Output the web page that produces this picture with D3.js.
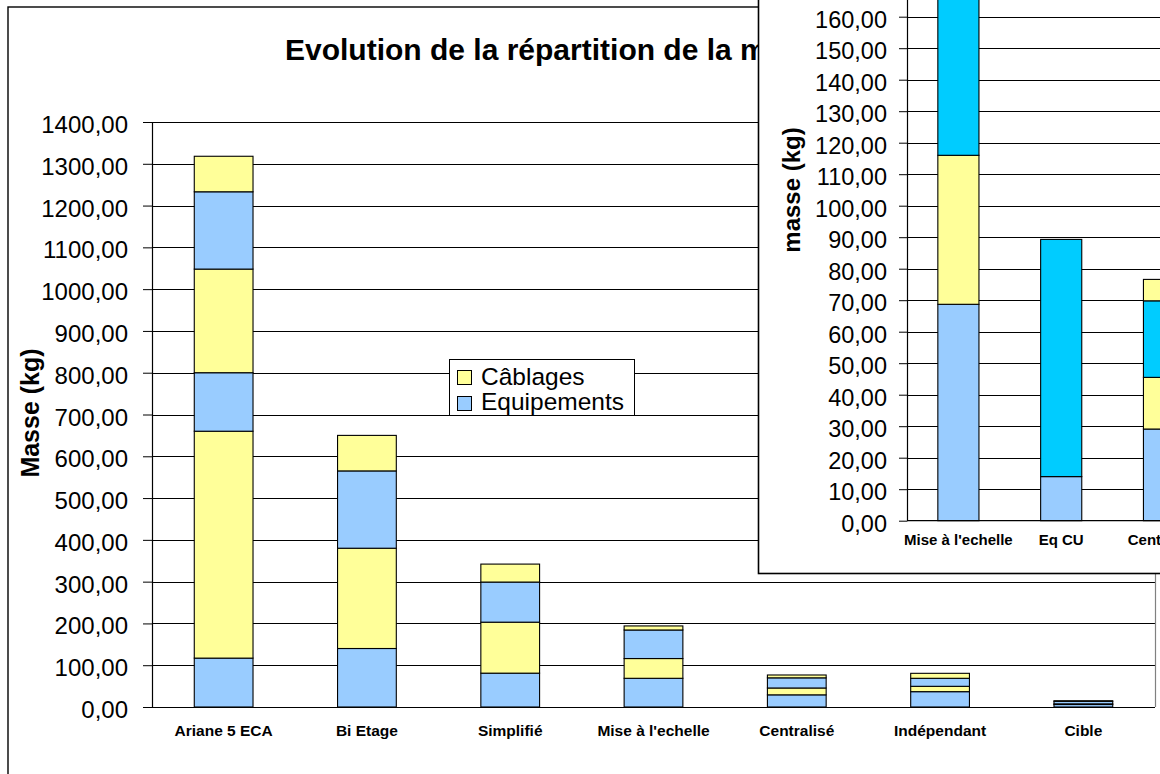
<!DOCTYPE html>
<html lang="fr">
<head>
<meta charset="utf-8">
<script src="https://cdn.jsdelivr.net/npm/d3@7"></script>
<style>
  html, body { margin: 0; padding: 0; background: #fff; }
  svg { display: block; font-family: Arial, "Liberation Sans", sans-serif; }
</style>
</head>
<body>
<svg id="chart" width="1160" height="774"></svg>
<script>
// ---- Main chart: stacked masses per architecture ----
const categories = ["Ariane 5 ECA", "Bi Etage", "Simplifié", "Mise à l'echelle", "Centralisé", "Indépendant", "Cible"];
// stacked from the bottom, alternating equipment / cabling blocks
const equipements1 = [117, 140, 81, 68.7, 29.1, 36.7, 6];
const cablages1    = [543, 240, 122, 47.3, 16.4, 12.8, 1.5];
const equipements2 = [140, 185, 96, 68.3, 24.3, 19.2, 6];
const cablages2    = [248, 85, 43, 9.7, 6.8, 11.9, 1.5];
const equipements3 = [185, 0, 0, 0, 0, 0, 0];
const cablages3    = [85, 0, 0, 0, 0, 0, 0];
const mainTicks = [0, 100, 200, 300, 400, 500, 600, 700, 800, 900, 1000, 1100, 1200, 1300, 1400];

// ---- Detail chart: lower-mass architectures ----
const detailCategories = ["Mise à l'echelle", "Eq CU", "Centralisé", "Indépendant", "Cible"];
const detailEquipements = [68.7, 14.0, 29.1, 36.7, 6];
const detailCablages    = [47.3, 0, 16.4, 12.8, 1.5];
const detailEqCU        = [68.3, 75.3, 24.3, 19.2, 6];
const detailCablages2   = [9.7, 0, 6.8, 11.9, 1.5];
const detailTicks = [0, 10, 20, 30, 40, 50, 60, 70, 80, 90, 100, 110, 120, 130, 140, 150, 160];
const detailMax = 200;

const legendLabels = ["Câblages", "Equipements"];

const BLUE = "#99CCFF", YELLOW = "#FFFF99", CYAN = "#00CCFF";
const fr = d3.formatLocale({ decimal: ",", thousands: "", grouping: [3], currency: ["", " €"] });
const fmt = fr.format(".2f");

const svg = d3.select("#chart");

// outer chart frame
svg.append("rect")
  .attr("x", 8).attr("y", 7).attr("width", 1300).attr("height", 900)
  .attr("fill", "#fff").attr("stroke", "#000").attr("stroke-width", 1.4);

// ---------- main chart ----------
const main = { left: 152, right: 1155, top: 122, bottom: 707 };
const x = d3.scaleBand().domain(categories).range([main.left, main.right]).paddingInner(0.59).paddingOuter(0.295);
const y = d3.scaleLinear().domain([0, 1400]).range([main.bottom, main.top]);

svg.append("text")
  .attr("x", 285).attr("y", 60)
  .attr("font-size", 30).attr("font-weight", "bold")
  .text("Evolution de la répartition de la masse");

// gridlines
svg.append("g").selectAll("line").data(mainTicks.filter(d => d > 0)).join("line")
  .attr("x1", main.left).attr("x2", main.right)
  .attr("y1", d => Math.round(y(d)) + 0.5).attr("y2", d => Math.round(y(d)) + 0.5)
  .attr("stroke", "#000").attr("stroke-width", 1);

// plot area right edge
svg.append("line")
  .attr("x1", main.right + 0.5).attr("x2", main.right + 0.5)
  .attr("y1", main.top).attr("y2", main.bottom)
  .attr("stroke", "#808080").attr("stroke-width", 1.2);

const mainRows = categories.map((c, i) => ({
  category: c,
  equipements1: equipements1[i], cablages1: cablages1[i],
  equipements2: equipements2[i], cablages2: cablages2[i],
  equipements3: equipements3[i], cablages3: cablages3[i]
}));
const mainKeys = ["equipements1", "cablages1", "equipements2", "cablages2", "equipements3", "cablages3"];
const mainStack = d3.stack().keys(mainKeys)(mainRows);

svg.append("g").selectAll("g").data(mainStack).join("g")
  .attr("fill", d => d.key.startsWith("equip") ? BLUE : YELLOW)
  .selectAll("rect").data(d => d.filter(s => s[1] - s[0] > 0)).join("rect")
  .attr("x", d => x(d.data.category))
  .attr("width", x.bandwidth())
  .attr("y", d => y(d[1]))
  .attr("height", d => y(d[0]) - y(d[1]))
  .attr("stroke", "#000").attr("stroke-width", 1.1);

// y axis
const yAxis = svg.append("g").attr("transform", `translate(${main.left},0)`)
  .call(d3.axisLeft(y).tickValues(mainTicks).tickFormat(fmt).tickSize(9).tickSizeOuter(0).tickPadding(15));
yAxis.select(".domain").attr("stroke", "#000").attr("stroke-width", 1.2);
yAxis.selectAll(".tick line").attr("stroke", "#000");
yAxis.selectAll(".tick text").attr("font-size", 24).attr("fill", "#000").attr("dy", "0.44em")
  .attr("font-family", "Arial, 'Liberation Sans', sans-serif");

// x axis baseline and category labels
svg.append("line")
  .attr("x1", main.left).attr("x2", main.right)
  .attr("y1", main.bottom + 0.5).attr("y2", main.bottom + 0.5)
  .attr("stroke", "#000").attr("stroke-width", 1.2);
const xAxis = svg.append("g").attr("transform", `translate(0,${main.bottom})`)
  .call(d3.axisBottom(x).tickSize(0).tickPadding(18));
xAxis.select(".domain").remove();
xAxis.selectAll(".tick text").attr("font-size", 15.5).attr("font-weight", "bold").attr("fill", "#000")
  .attr("font-family", "Arial, 'Liberation Sans', sans-serif");

svg.append("text")
  .attr("transform", "translate(39,413) rotate(-90)")
  .attr("text-anchor", "middle")
  .attr("font-size", 25).attr("font-weight", "bold")
  .text("Masse (kg)");

// legend
const legend = svg.append("g");
legend.append("rect")
  .attr("x", 449.5).attr("y", 359.5).attr("width", 185).attr("height", 56)
  .attr("fill", "#fff").attr("stroke", "#000").attr("stroke-width", 1);
const legendColors = [YELLOW, BLUE];
legend.selectAll("g.item").data(legendLabels).join("g").attr("class", "item")
  .each(function (d, i) {
    const g = d3.select(this);
    g.append("rect")
      .attr("x", 457.5).attr("y", 370.5 + i * 26).attr("width", 14).attr("height", 14)
      .attr("fill", legendColors[i]).attr("stroke", "#000").attr("stroke-width", 1);
    g.append("text")
      .attr("x", 481).attr("y", 384.5 + i * 25)
      .attr("font-size", 24.5).text(d);
  });

// ---------- detail chart (overlay) ----------
svg.append("rect")
  .attr("x", 758.5).attr("y", -300).attr("width", 700).attr("height", 873.5)
  .attr("fill", "#fff").attr("stroke", "#000").attr("stroke-width", 1.6);

const det = { left: 907, right: 907 + 5 * 102.8, bottom: 520.7 };
const dx = d3.scaleBand().domain(detailCategories).range([det.left, det.right]).paddingInner(0.6).paddingOuter(0.3);
const dy = d3.scaleLinear().domain([0, detailMax]).range([det.bottom, det.bottom - detailMax * 3.15]);

svg.append("g").selectAll("line").data(d3.range(10, detailMax + 1, 10)).join("line")
  .attr("x1", det.left).attr("x2", det.right)
  .attr("y1", d => Math.round(dy(d)) + 0.5).attr("y2", d => Math.round(dy(d)) + 0.5)
  .attr("stroke", "#000").attr("stroke-width", 1);

const detRows = detailCategories.map((c, i) => ({
  category: c,
  equipements: detailEquipements[i], cablages: detailCablages[i],
  eqcu: detailEqCU[i], cablages2: detailCablages2[i]
}));
const detColors = { equipements: BLUE, cablages: YELLOW, eqcu: CYAN, cablages2: YELLOW };
const detStack = d3.stack().keys(["equipements", "cablages", "eqcu", "cablages2"])(detRows);

svg.append("g").selectAll("g").data(detStack).join("g")
  .attr("fill", d => detColors[d.key])
  .selectAll("rect").data(d => d.filter(s => s[1] - s[0] > 0)).join("rect")
  .attr("x", d => dx(d.data.category))
  .attr("width", dx.bandwidth())
  .attr("y", d => dy(d[1]))
  .attr("height", d => dy(d[0]) - dy(d[1]))
  .attr("stroke", "#000").attr("stroke-width", 1.1);

const dyAxis = svg.append("g").attr("transform", `translate(${det.left},0)`)
  .call(d3.axisLeft(dy).tickValues(detailTicks).tickFormat(fmt).tickSize(8).tickSizeOuter(0).tickPadding(12));
dyAxis.select(".domain").attr("stroke", "#000").attr("stroke-width", 1.2);
dyAxis.selectAll(".tick line").attr("stroke", "#000");
dyAxis.selectAll(".tick text").attr("font-size", 23.5).attr("fill", "#000").attr("dy", "0.45em")
  .attr("font-family", "Arial, 'Liberation Sans', sans-serif");

svg.append("line")
  .attr("x1", det.left).attr("x2", det.right)
  .attr("y1", det.bottom).attr("y2", det.bottom)
  .attr("stroke", "#000").attr("stroke-width", 1.2);
const dxAxis = svg.append("g").attr("transform", `translate(0,${det.bottom})`)
  .call(d3.axisBottom(dx).tickSize(0).tickPadding(14));
dxAxis.select(".domain").remove();
dxAxis.selectAll(".tick text").attr("font-size", 15).attr("font-weight", "bold").attr("fill", "#000")
  .attr("font-family", "Arial, 'Liberation Sans', sans-serif");

svg.append("text")
  .attr("transform", "translate(800,190) rotate(-90)")
  .attr("text-anchor", "middle")
  .attr("font-size", 24).attr("font-weight", "bold")
  .text("masse (kg)");
</script>
</body>
</html>
